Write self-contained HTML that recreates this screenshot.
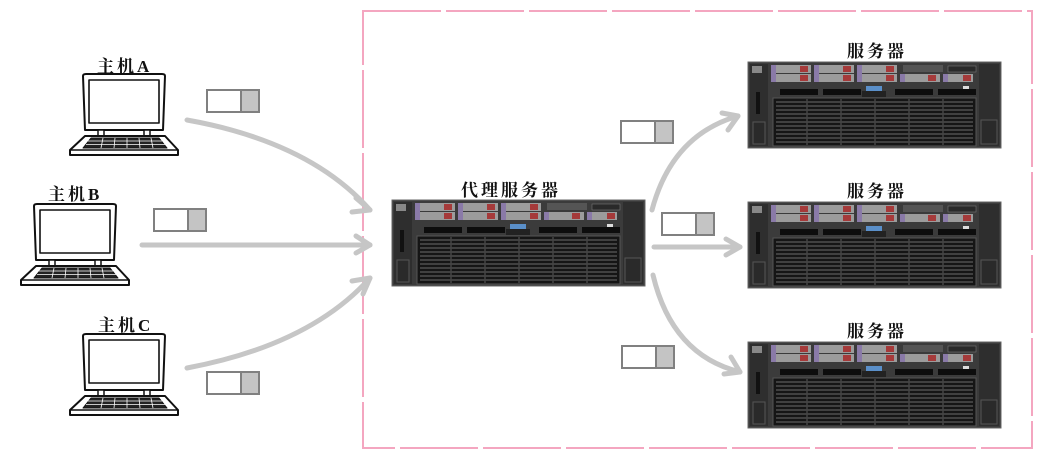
<!DOCTYPE html>
<html><head><meta charset="utf-8"><style>
html,body{margin:0;padding:0;background:#fff;}
body{width:1041px;height:453px;overflow:hidden;position:relative;font-family:"Liberation Serif","Noto Serif CJK SC","Noto Sans CJK SC",serif;}
.lbl{position:absolute;font-size:17px;font-weight:bold;color:#111;letter-spacing:3px;white-space:nowrap;}
</style></head><body>
<svg width="1041" height="453" style="position:absolute;left:0;top:0">
<defs>
<g id="srv">
  <rect x="0" y="0" width="253" height="86" fill="#3b3b3b"/>
  <rect x="0" y="0" width="253" height="86" fill="none" stroke="#666" stroke-width="1"/>
  <rect x="2" y="2" width="18" height="82" fill="#2e2e2e"/>
  <rect x="4" y="4" width="10" height="7" fill="#888"/>
  <rect x="8" y="30" width="4" height="22" fill="#111"/>
  <rect x="5" y="60" width="12" height="22" fill="#2a2a2a" stroke="#555"/>
  <rect x="231" y="2" width="20" height="82" fill="#2e2e2e"/>
  <rect x="233" y="58" width="16" height="24" fill="#2a2a2a" stroke="#555"/>
  <rect x="215" y="24" width="6" height="8" fill="#ddd"/>
  <rect x="215" y="36" width="6" height="6" fill="#ddd"/>
  <rect x="214" y="46" width="7" height="12" fill="#6b86c4"/>
  <!-- drives -->
  <g fill="#9c9c9c">
    <rect x="23" y="3" width="40" height="8"/><rect x="23" y="12" width="40" height="8"/>
    <rect x="66" y="3" width="40" height="8"/><rect x="66" y="12" width="40" height="8"/>
    <rect x="109" y="3" width="40" height="8"/><rect x="109" y="12" width="40" height="8"/>
    <rect x="152" y="12" width="40" height="8"/><rect x="195" y="12" width="30" height="8"/>
  </g>
  <g fill="#8a7aa8">
    <rect x="23" y="3" width="5" height="17"/><rect x="66" y="3" width="5" height="17"/><rect x="109" y="3" width="5" height="17"/><rect x="152" y="12" width="5" height="8"/><rect x="195" y="12" width="5" height="8"/>
  </g>
  <g fill="#a53a3a">
    <rect x="52" y="4" width="8" height="6"/><rect x="52" y="13" width="8" height="6"/>
    <rect x="95" y="4" width="8" height="6"/><rect x="95" y="13" width="8" height="6"/>
    <rect x="138" y="4" width="8" height="6"/><rect x="138" y="13" width="8" height="6"/>
    <rect x="180" y="13" width="8" height="6"/><rect x="215" y="13" width="8" height="6"/>
  </g>
  <rect x="155" y="3" width="40" height="7" fill="#555"/>
  <rect x="200" y="4" width="28" height="6" fill="#2a2a2a" stroke="#777" stroke-width="0.6"/>
  <!-- slots -->
  <g fill="#0d0d0d">
    <rect x="32" y="27" width="38" height="6"/><rect x="75" y="27" width="38" height="6"/>
    <rect x="147" y="27" width="38" height="6"/><rect x="190" y="27" width="38" height="6"/>
  </g>
  <rect x="118" y="24" width="16" height="5" fill="#5a8fc9"/>
  <rect x="114" y="29" width="24" height="6" fill="#222"/>
  <!-- grille -->
  <rect x="25" y="36" width="203" height="48" fill="#151515" stroke="#555"/>
  <g stroke="#5a5a5a" stroke-width="1.2">
    <line x1="28" y1="40" x2="225" y2="40"/><line x1="28" y1="44" x2="225" y2="44"/><line x1="28" y1="48" x2="225" y2="48"/><line x1="28" y1="52" x2="225" y2="52"/><line x1="28" y1="56" x2="225" y2="56"/><line x1="28" y1="60" x2="225" y2="60"/><line x1="28" y1="64" x2="225" y2="64"/><line x1="28" y1="68" x2="225" y2="68"/><line x1="28" y1="72" x2="225" y2="72"/><line x1="28" y1="76" x2="225" y2="76"/><line x1="28" y1="80" x2="225" y2="80"/>
  </g>
  <g stroke="#444" stroke-width="1.5">
    <line x1="59" y1="37" x2="59" y2="83"/><line x1="93" y1="37" x2="93" y2="83"/><line x1="127" y1="37" x2="127" y2="83"/><line x1="161" y1="37" x2="161" y2="83"/><line x1="195" y1="37" x2="195" y2="83"/>
  </g>
</g>
<g id="lap" fill="#fff" stroke="#111" stroke-width="2" stroke-linejoin="round">
  <path d="M0,2 Q0,0 3,0 L79,0 Q82,0 82,2 L80,56 L2,56 Z"/>
  <rect x="6" y="6" width="70" height="43" stroke-width="1.6"/>
  <rect x="15" y="56" width="6" height="6" stroke-width="1.5"/>
  <rect x="61" y="56" width="6" height="6" stroke-width="1.5"/>
  <path d="M2,62 L82,62 L95,76 L95,81 L-13,81 L-13,76 Z"/>
  <line x1="-13" y1="76" x2="95" y2="76" stroke-width="1.5"/>
  <path d="M8,64 L76,64 L84,74 L0,74 Z" fill="#222" stroke-width="1"/>
  <g stroke="#fff" stroke-width="0.8">
    <line x1="5" y1="67" x2="79" y2="67"/><line x1="3" y1="70.5" x2="82" y2="70.5"/>
    <line x1="20" y1="64" x2="18" y2="74"/><line x1="32" y1="64" x2="31" y2="74"/><line x1="44" y1="64" x2="44" y2="74"/><line x1="56" y1="64" x2="57" y2="74"/><line x1="68" y1="64" x2="70" y2="74"/>
  </g>
</g>
<g id="pkt">
  <rect x="1" y="1" width="34" height="22" fill="#fff" stroke="#808080" stroke-width="2"/>
  <rect x="35" y="1" width="18" height="22" fill="#c4c4c4" stroke="#808080" stroke-width="2"/>
</g>
</defs>

<rect x="363" y="11" width="669" height="437" fill="none" stroke="#f4a6c0" stroke-width="2" stroke-dasharray="78,5"/>

<use href="#lap" x="83" y="74"/>
<use href="#lap" x="34" y="204"/>
<use href="#lap" x="83" y="334"/>

<use href="#srv" x="392" y="200"/>
<use href="#srv" x="748" y="62"/>
<use href="#srv" x="748" y="202"/>
<use href="#srv" x="748" y="342"/>

<g fill="none" stroke="#c6c6c6" stroke-width="5" stroke-linecap="round" stroke-linejoin="round">
  <path d="M187,120 Q310,142 370,210"/>
  <path d="M356,198 L370,210 L352,212"/>
  <path d="M142,245 L370,245"/>
  <path d="M356,236 L370,245 L356,253"/>
  <path d="M187,368 Q310,345 370,278"/>
  <path d="M352,281 L370,278 L363,294"/>
  <path d="M652,210 Q672,135 738,116"/>
  <path d="M722,113 L738,116 L728,130"/>
  <path d="M654,247 L740,247"/>
  <path d="M726,239 L740,247 L726,255"/>
  <path d="M653,275 Q672,355 740,372"/>
  <path d="M731,357 L740,372 L724,374"/>
</g>

<use href="#pkt" x="206" y="89"/>
<use href="#pkt" x="153" y="208"/>
<use href="#pkt" x="206" y="371"/>
<use href="#pkt" x="620" y="120"/>
<use href="#pkt" x="661" y="212"/>
<use href="#pkt" x="621" y="345"/>
</svg>

<div class="lbl" style="left:97px;top:52px;">主机A</div>
<div class="lbl" style="left:48px;top:180px;">主机B</div>
<div class="lbl" style="left:98px;top:311px;">主机C</div>
<div class="lbl" style="left:461px;top:176px;">代理服务器</div>
<div class="lbl" style="left:847px;top:37px;">服务器</div>
<div class="lbl" style="left:847px;top:177px;">服务器</div>
<div class="lbl" style="left:847px;top:317px;">服务器</div>
</body></html>
